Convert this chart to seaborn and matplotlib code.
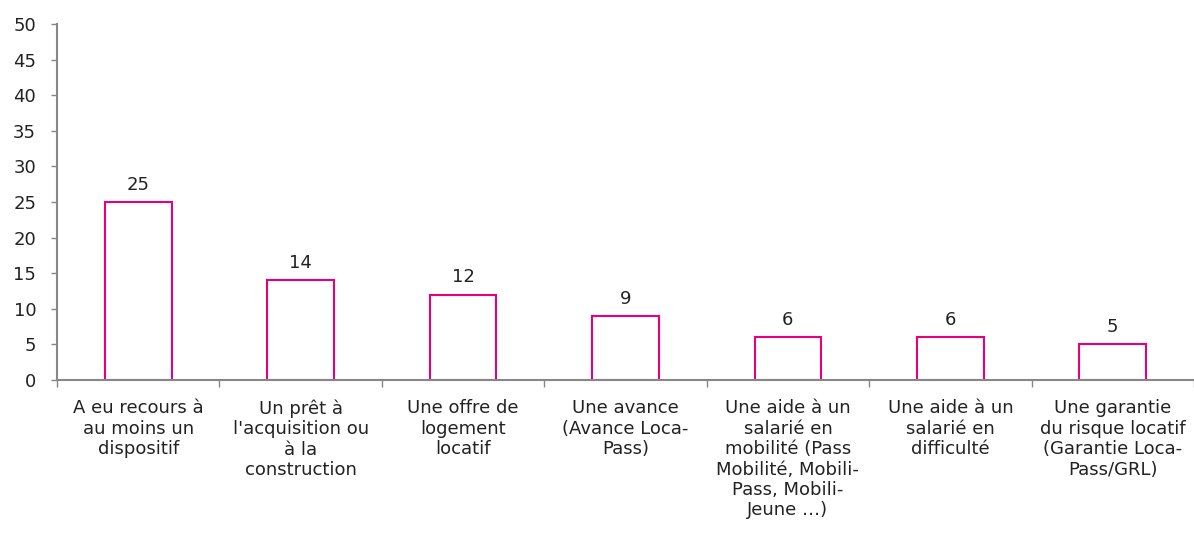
import seaborn as sns
import matplotlib.pyplot as plt
import numpy as np

categories = [
    "A eu recours à\nau moins un\ndispositif",
    "Un prêt à\nl'acquisition ou\nà la\nconstruction",
    "Une offre de\nlogement\nlocatif",
    "Une avance\n(Avance Loca-\nPass)",
    "Une aide à un\nsalarié en\nmobilité (Pass\nMobilité, Mobili-\nPass, Mobili-\nJeune …)",
    "Une aide à un\nsalarié en\ndifficulté",
    "Une garantie\ndu risque locatif\n(Garantie Loca-\nPass/GRL)",
]
values = [25, 14, 12, 9, 6, 6, 5]

sns.set_style("white")
plt.rcParams["font.family"] = ["DejaVu Sans"]

fig = plt.figure(figsize=(11.94, 5.39), dpi=100)
ax = fig.add_axes([57 / 1194, 1 - 380 / 539, 1 - 57 / 1194, (380 - 24) / 539])

pos = np.arange(len(values))
sns.barplot(x=pos, y=values, color="white", edgecolor="#E6007E",
            linewidth=1.5, width=0.41, ax=ax, native_scale=True)

fs = 13
for p, v in zip(pos, values):
    ax.annotate(str(v), (p, v), xytext=(0, 6), textcoords="offset points",
                ha="center", va="bottom", fontsize=fs, color="#222222")

ax.set_xlim(-0.5, len(values) - 0.5)
ax.set_ylim(0, 50)
ax.set_yticks(range(0, 51, 5))
ax.set_xticks(pos)
ax.set_xticklabels(categories, fontsize=fs, linespacing=1.17, color="#222222")
ax.set_xticks(np.arange(-0.5, len(values), 1), minor=True)
ax.tick_params(axis="x", which="major", length=0, pad=14)
ax.tick_params(axis="x", which="minor", length=5, color="#878787", width=1, direction="out", bottom=True)
ax.tick_params(axis="y", length=4, color="#878787", width=1, direction="out", left=True,
               labelsize=fs, labelcolor="#222222", pad=11)
ax.set_xlabel("")
ax.set_ylabel("")

for s in ["top", "right"]:
    ax.spines[s].set_visible(False)
for s in ["left", "bottom"]:
    ax.spines[s].set_color("#878787")
    ax.spines[s].set_linewidth(1.5)

fig.savefig("out.png", dpi=100)
